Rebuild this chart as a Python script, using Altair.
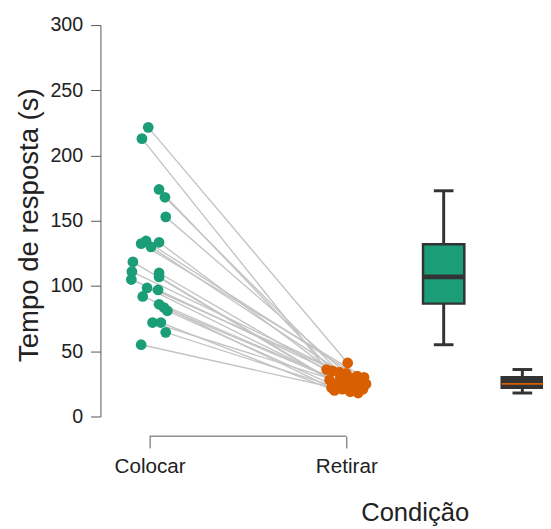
import altair as alt
import pandas as pd

# ---- data ----
categories = ["Colocar", "Retirar"]
colocar = [221.6, 213, 174, 168, 153, 134.5, 133.5, 132.5, 130, 118.5, 111, 110,
           107, 105, 98.5, 97, 92, 86, 83.5, 81, 72, 72, 64.5, 55]
retirar = [41, 36, 35, 34, 33, 31, 30, 30, 29, 28, 27, 26,
           25, 25, 24, 24, 23, 22, 22, 21, 21, 20, 19, 18]
# horizontal jitter (in category units) of each point
colocar_jit = [-0.007, -0.039, 0.048, 0.078, 0.082, -0.018, 0.048, -0.043, 0.007, -0.085, -0.09, 0.048,
               0.048, -0.093, -0.013, 0.043, -0.035, 0.048, 0.073, 0.09, 0.015, 0.057, 0.082, -0.043]
retirar_jit = [0.007, -0.1, -0.07, -0.035, 0.0, 0.055, -0.03, 0.09, 0.025, -0.085, 0.065, 0.005,
               -0.045, 0.1, -0.01, 0.075, 0.03, -0.075, 0.04, -0.02, 0.085, -0.06, 0.02, 0.06]

# boxplot summaries (q1, median, q3, whisker low, whisker high)
box_q1 = [86.5, 22]
box_med = [107, 25]
box_q3 = [132, 30]
box_lo = [55, 18]
box_hi = [173, 36]

colors = ["#1b9e77", "#d95f02"]
BOX_X = [2.495, 2.895]
BOX_HALF = 0.105
CAP_HALF = 0.05

rows = []
for i, (a, b) in enumerate(zip(colocar, retirar)):
    rows.append({"id": i, "cond": categories[0], "x": 1 + colocar_jit[i], "y": a})
    rows.append({"id": i, "cond": categories[1], "x": 2 + retirar_jit[i], "y": b})
pts = pd.DataFrame(rows)

box = pd.DataFrame({
    "cond": categories,
    "xc": BOX_X,
    "xl": [c - BOX_HALF for c in BOX_X],
    "xr": [c + BOX_HALF for c in BOX_X],
    "cl": [c - CAP_HALF for c in BOX_X],
    "cr": [c + CAP_HALF for c in BOX_X],
    "q1": box_q1, "med": box_med, "q3": box_q3, "lo": box_lo, "hi": box_hi,
    "fill": [colors[0], "#333333"],
    "medc": ["#333333", colors[1]],
    "medw": [5, 2],
})

label_expr = f"datum.value == 1 ? '{categories[0]}' : '{categories[1]}'"
FONT = "Liberation Sans, Arial"

xscale = alt.Scale(domain=[0.75, 3.0], nice=False, zero=False)
yscale = alt.Scale(domain=[0, 300], nice=False)

xaxis = alt.Axis(values=[1, 2], labelExpr=label_expr, domain=False, grid=False,
                 tickSize=12, tickColor="#555555", tickWidth=1, offset=20,
                 labelFont=FONT, labelFontSize=21, labelColor="#222222", labelPadding=8,
                 title="Condição", titleFont=FONT, titleFontSize=26, titleFontWeight="normal",
                 titleColor="#222222", titleX=319.5, titleY=86, titleBaseline="alphabetic",
                 titleAlign="center")
yaxis = alt.Axis(values=[0, 50, 100, 150, 200, 250, 300], grid=False,
                 domainColor="#555555", tickColor="#555555", tickSize=10,
                 labelFont=FONT, labelFontSize=20, labelColor="#222222", labelPadding=8,
                 title="Tempo de resposta (s)", titleFont=FONT,
                 titleFontSize=28, titleFontWeight="normal", titleColor="#222222",
                 titleX=-64, titleY=203, titleBaseline="alphabetic", titleAlign="center",
                 titleAngle=270)

base = alt.Chart(pts)

lines = base.mark_line(color="#c4c4c4", strokeWidth=1.4).encode(
    x=alt.X("x:Q", scale=xscale, axis=xaxis),
    y=alt.Y("y:Q", scale=yscale, axis=yaxis),
    detail="id:N",
    order="x:Q",
)

points = base.mark_circle(size=120, opacity=1).encode(
    x=alt.X("x:Q", scale=xscale),
    y=alt.Y("y:Q", scale=yscale),
    color=alt.Color("cond:N", scale=alt.Scale(domain=categories, range=colors), legend=None),
)

bx = alt.Chart(box)
frame = alt.Chart(pd.DataFrame({"a": [1], "b": [2]})).mark_rule(color="#555555", strokeWidth=1).encode(
    x=alt.X("a:Q", scale=xscale), x2="b:Q", y=alt.value(418))

wl = bx.mark_rule(color="#333333", strokeWidth=3).encode(
    x=alt.X("xc:Q", scale=xscale), y=alt.Y("lo:Q", scale=yscale), y2="q1:Q")
wh = bx.mark_rule(color="#333333", strokeWidth=3).encode(
    x=alt.X("xc:Q", scale=xscale), y=alt.Y("q3:Q", scale=yscale), y2="hi:Q")
caph = bx.mark_rule(color="#333333", strokeWidth=3).encode(
    x=alt.X("cl:Q", scale=xscale), x2="cr:Q", y=alt.Y("hi:Q", scale=yscale))
capl = bx.mark_rule(color="#333333", strokeWidth=3).encode(
    x=alt.X("cl:Q", scale=xscale), x2="cr:Q", y=alt.Y("lo:Q", scale=yscale))
rect = bx.mark_rect(stroke="#333333", strokeWidth=2.5).encode(
    x=alt.X("xl:Q", scale=xscale), x2="xr:Q",
    y=alt.Y("q1:Q", scale=yscale), y2="q3:Q",
    fill=alt.Fill("fill:N", scale=None))
med = bx.mark_rule().encode(
    x=alt.X("xl:Q", scale=xscale), x2="xr:Q", y=alt.Y("med:Q", scale=yscale),
    color=alt.Color("medc:N", scale=None), strokeWidth=alt.StrokeWidth("medw:Q", scale=None))

chart = alt.layer(lines, points, frame, wl, wh, caph, capl, rect, med).properties(
    width=450, height=398,
    autosize=alt.AutoSizeParams(type="none"),
    padding={"left": 94, "top": 13, "right": 0, "bottom": 108},
).configure_view(stroke=None)

chart.save("out.html", embed_options={"renderer": "svg", "actions": False})
